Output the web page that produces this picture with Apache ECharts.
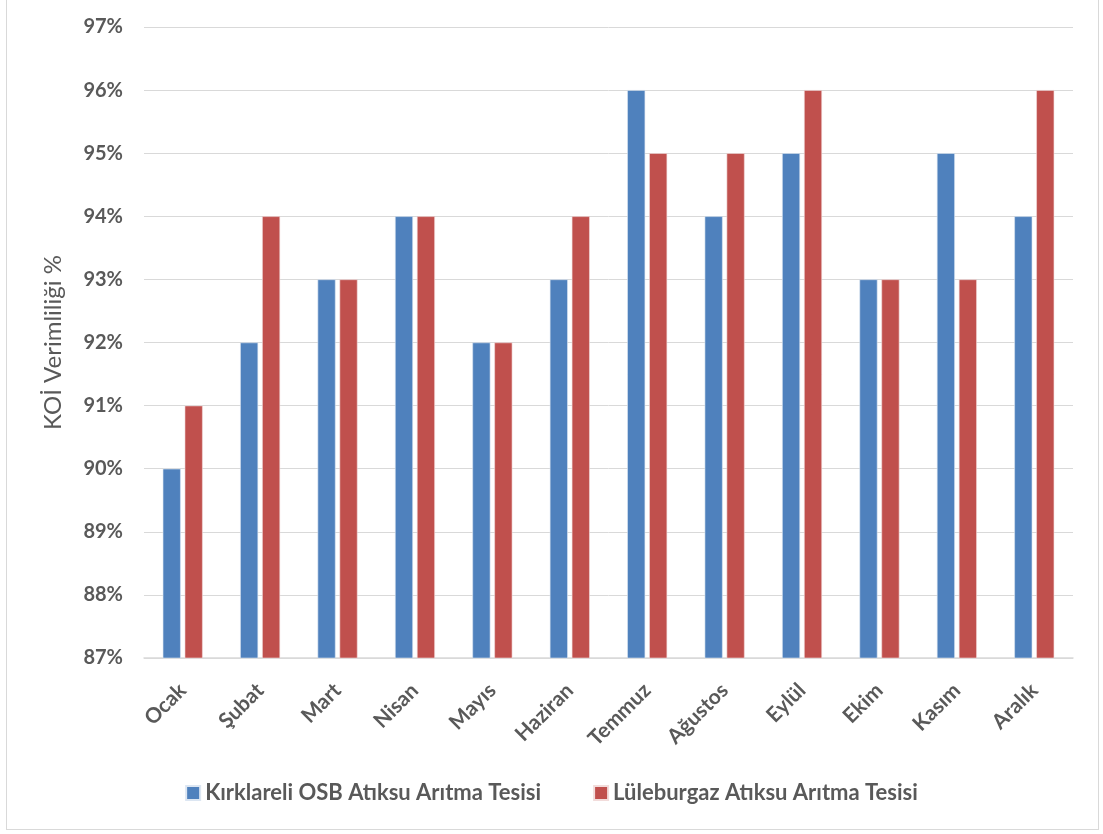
<!DOCTYPE html>
<html>
<head>
<meta charset="utf-8">
<script src="https://cdn.jsdelivr.net/npm/echarts@6/dist/echarts.min.js"></script>
<style>
  html, body { margin: 0; padding: 0; background: #fff; }
  #frame { position: absolute; left: 6px; top: -2px; width: 1093px; height: 832px; border: 1px solid #D9D9D9; box-sizing: border-box; }
  #chart { position: absolute; left: 0; top: 0; width: 1103px; height: 834px; }
</style>
</head>
<body>
<div id="frame"></div>
<div id="chart"></div>
<script>
// Monthly COD removal efficiency (%) for two treatment plants
const months = ['Ocak', 'Şubat', 'Mart', 'Nisan', 'Mayıs', 'Haziran', 'Temmuz', 'Ağustos', 'Eylül', 'Ekim', 'Kasım', 'Aralık'];
const kirklareliOSB = [90, 92, 93, 94, 92, 93, 96, 94, 95, 93, 95, 94];
const luleburgaz = [91, 94, 93, 94, 92, 94, 95, 95, 96, 93, 93, 96];
const seriesNames = ['Kırklareli OSB Atıksu Arıtma Tesisi', 'Lüleburgaz Atıksu Arıtma Tesisi'];

const textColor = '#595959';
const fontFamily = 'Lato, "Open Sans", sans-serif';

const chart = echarts.init(document.getElementById('chart'), null, { renderer: 'canvas' });
chart.setOption({
  animation: false,
  backgroundColor: 'transparent',
  textStyle: { fontFamily: fontFamily },
  grid: { left: 144, right: 30, top: 27, bottom: 176, containLabel: false },
  legend: {
    bottom: 25,
    left: 'center',
    itemWidth: 14,
    itemHeight: 14,
    itemGap: 52,
    icon: 'rect',
    textStyle: { color: textColor, fontSize: 22, fontWeight: 'bold', fontFamily: fontFamily },
    data: seriesNames
  },
  xAxis: {
    type: 'category',
    data: months,
    axisLine: { lineStyle: { color: '#D9D9D9', width: 1.5 } },
    axisTick: { show: false },
    axisLabel: { rotate: 45, margin: 29, color: textColor, fontSize: 21, fontWeight: 'bold', fontFamily: fontFamily, interval: 0 }
  },
  yAxis: {
    type: 'value',
    min: 87,
    max: 97,
    interval: 1,
    name: 'KOİ Verimliliği %',
    nameLocation: 'middle',
    nameGap: 79,
    nameTextStyle: { color: textColor, fontSize: 24, fontFamily: fontFamily },
    axisLine: { show: false },
    axisTick: { show: false },
    axisLabel: { formatter: '{value}%', margin: 21, color: textColor, fontSize: 20, fontWeight: 'bold', fontFamily: fontFamily },
    splitLine: { lineStyle: { color: '#D9D9D9', width: 1 } }
  },
  series: [
    {
      name: seriesNames[0],
      type: 'bar',
      data: kirklareliOSB,
      barWidth: 18,
      barGap: '22%',
      itemStyle: { color: '#4F81BD', borderColor: '#DCE6F2', borderWidth: 0.6 }
    },
    {
      name: seriesNames[1],
      type: 'bar',
      data: luleburgaz,
      barWidth: 18,
      barGap: '22%',
      itemStyle: { color: '#C0504D', borderColor: '#F2DCDB', borderWidth: 0.6 }
    }
  ]
});
</script>
</body>
</html>
